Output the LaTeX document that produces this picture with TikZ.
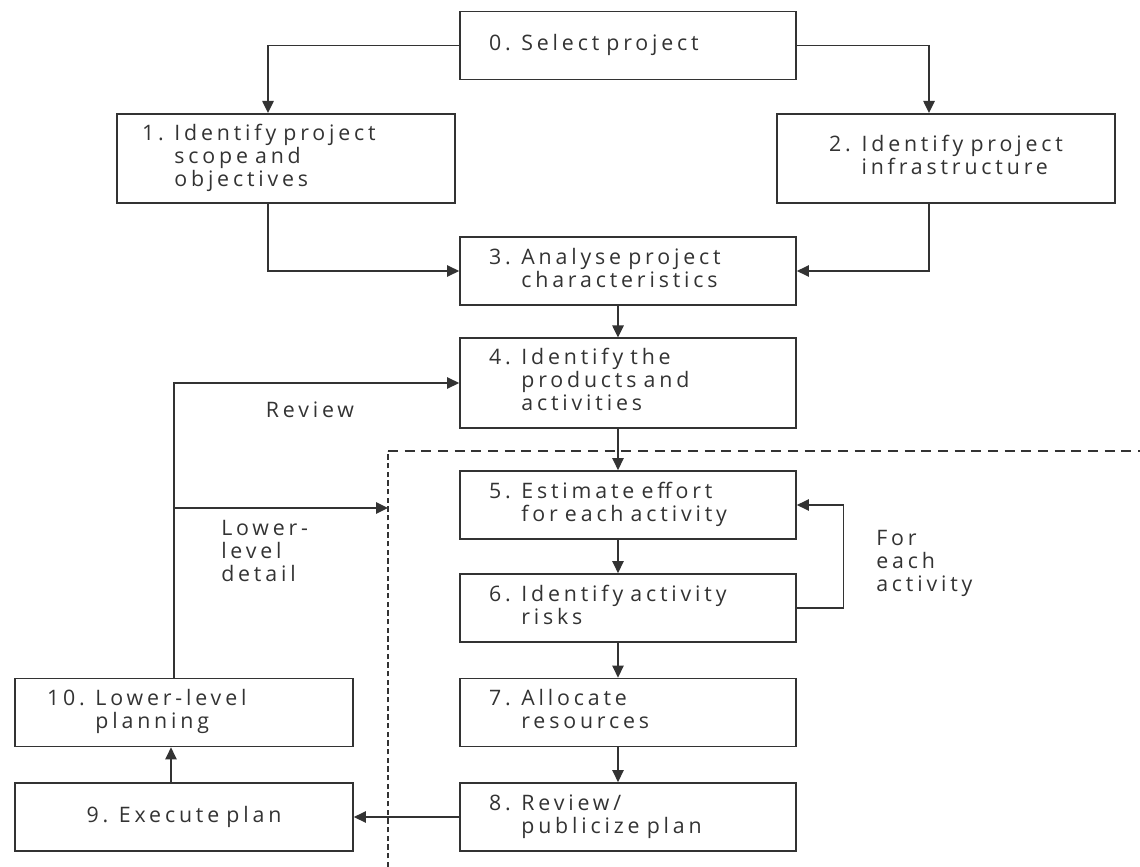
\documentclass[tikz,border=0pt]{standalone}
\usepackage{fontspec}
\setmainfont{Open Sans}[LetterSpace=18, WordSpace=5]
\usepackage{tikz}
\usetikzlibrary{arrows.meta,positioning}
\definecolor{ink}{HTML}{333333}
\newcommand{\numtext}[2]{#1\hspace{8pt}\begin{tabular}[t]{@{}l@{}}#2\end{tabular}}

\begin{document}
\begin{tikzpicture}[x=0.75pt, y=-0.75pt, every node/.style={font=\fontsize{16}{17.25}\selectfont, text=ink},
  stepbox/.style={draw=ink, line width=1.3pt, minimum height=51pt, inner xsep=21.75pt, text width=208.5pt, align=left},
  tall/.style={minimum height=67pt},
  conn/.style={draw=ink, line width=1.2pt, -{Triangle[length=9pt, width=8.5pt]}}]
\fill[white] (0,0) rectangle (1140,867);
\useasboundingbox (0,0) rectangle (1140,867);

% planning steps
\node[stepbox] (n0) at (628,45.5) {\numtext{0.}{Select project}};
\node[stepbox, tall, inner xsep=18.75pt, text width=216pt] (n1) at (286,158.5) {\numtext{1.}{Identify project\\scope and\\objectives}};
\node[stepbox, tall, inner xsep=21pt, text width=211.5pt, align=center] (n2) at (946,158.5) {\numtext{2.}{Identify project\\infrastructure}};
\node[stepbox] (n3) at (628,271) {\numtext{3.}{Analyse project\\characteristics}};
\node[stepbox, tall] (n4) at (628,383) {\numtext{4.}{Identify the\\products and\\activities}};
\node[stepbox] (n5) at (628,505) {\numtext{5.}{Estimate effort\\for each activity}};
\node[stepbox] (n6) at (628,608) {\numtext{6.}{Identify activity\\risks}};
\node[stepbox] (n7) at (628,712.5) {\numtext{7.}{Allocate\\resources}};
\node[stepbox] (n8) at (628,817) {\numtext{8.}{Review/\\publicize plan}};
\node[stepbox, inner xsep=21pt, text width=211.5pt, align=center] (n9) at (184,817) {9. Execute plan};
\node[stepbox, inner xsep=24pt, text width=205.5pt] (n10) at (184,712.5) {\numtext{10.}{Lower-level\\planning}};

% labels
\node (lrev) at (310,410) {Review};
\node[anchor=west, align=left, inner sep=0pt] (llow) at (221,551) {Lower-\\level\\detail};
\node[anchor=west, align=left, inner sep=0pt] (lfor) at (876,563) {For\\each\\activity};

% dashed zone
\draw[ink, line width=1.2pt, dash pattern=on 4pt off 2.5pt] (388,867) -- (388,451);
\draw[ink, line width=1.2pt, dash pattern=on 7.5pt off 5pt] (388,451) -- (1140,451);
\coordinate (zone) at (388,508);
\coordinate (rise) at ([xshift=-7.5pt]n10.north);

% connectors
\draw[conn] (n0.west) -| ([xshift=-13.5pt]n1.north);
\draw[conn] (n0.east) -| ([xshift=-12.75pt]n2.north);
\draw[conn] ([xshift=-13.5pt]n1.south) |- (n3.west);
\draw[conn] ([xshift=-12.75pt]n2.south) |- (n3.east);
\foreach \a/\b in {n3/n4, n4/n5, n5/n6, n6/n7, n7/n8}
  \draw[conn] ([xshift=-7.5pt]\a.south) -- ([xshift=-7.5pt]\b.north);
\draw[conn] (n6.east) -- ++(35pt,0) |- (n5.east);
\draw[conn] (n8.west) -- (n9.east);
\draw[conn] ([xshift=-9.75pt]n9.north) -- ([xshift=-9.75pt]n10.south);
\draw[conn] (rise) |- (n4.west);
\draw[conn] (rise |- zone) -- (zone);
\end{tikzpicture}
\end{document}
